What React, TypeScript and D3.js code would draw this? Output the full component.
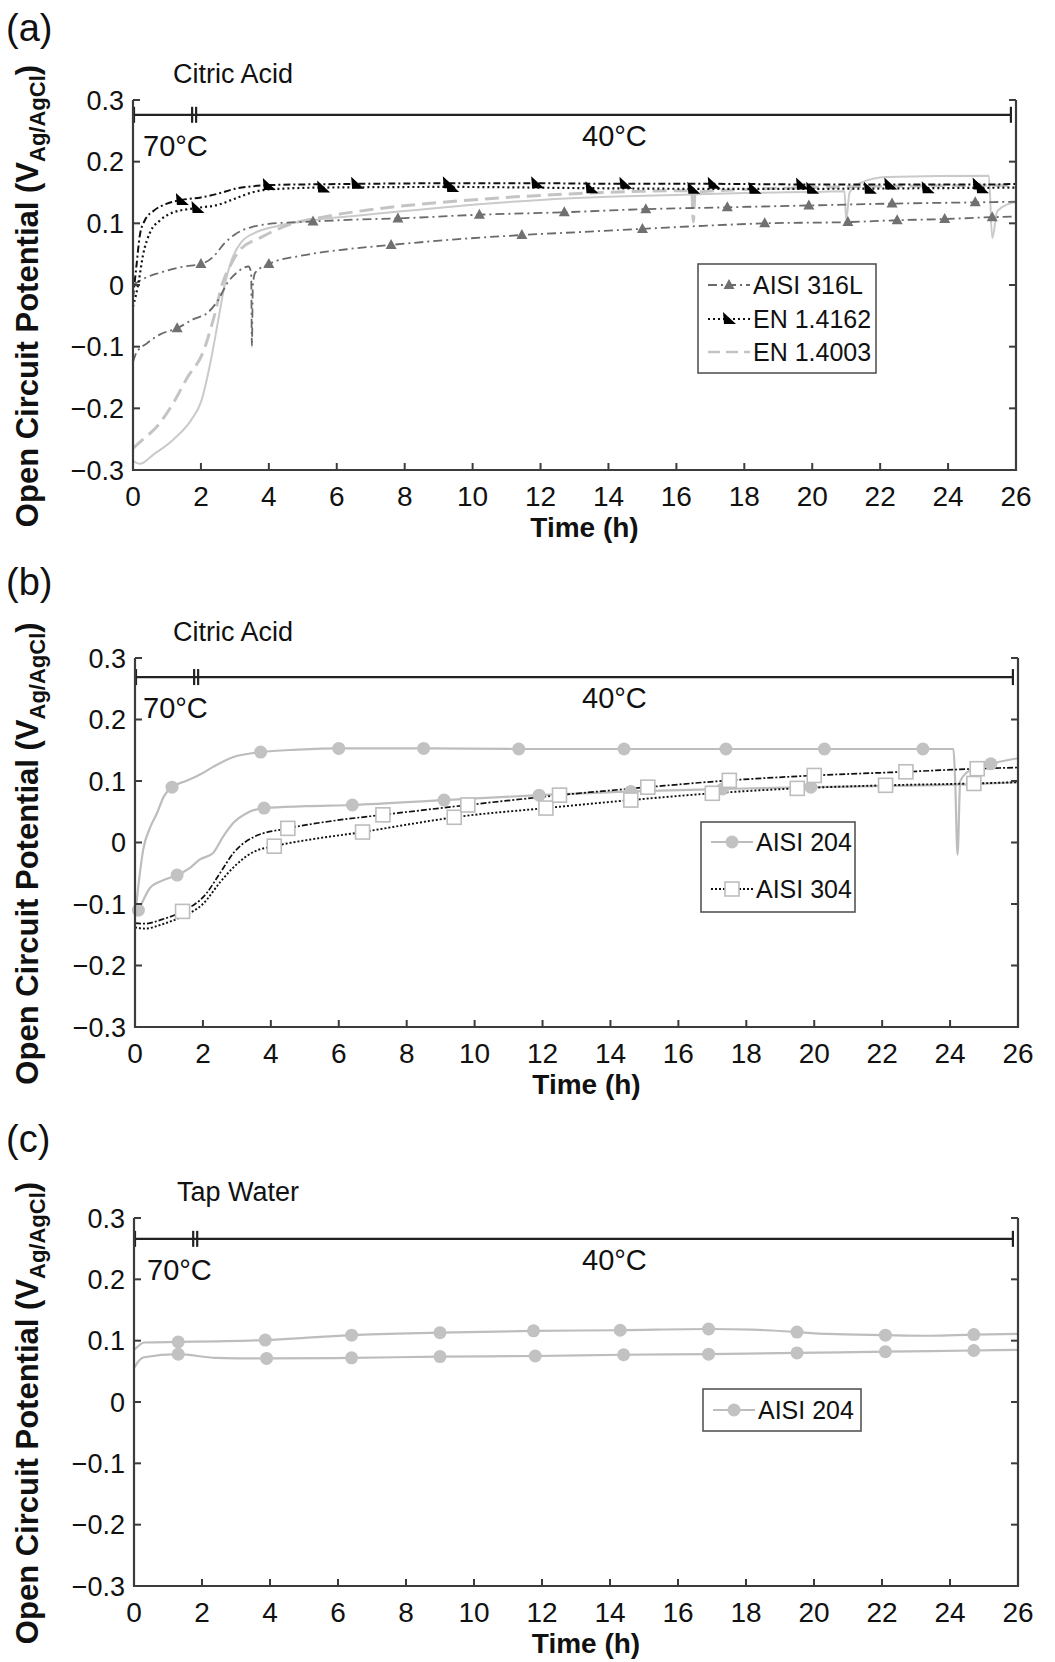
import React from 'react';
import * as d3 from 'd3';

type Pt = [number, number];

// ---------- shared axis data ----------
const xTicks = [0, 2, 4, 6, 8, 10, 12, 14, 16, 18, 20, 22, 24, 26];
const yTicks = [-0.3, -0.2, -0.1, 0, 0.1, 0.2, 0.3];
const xDomain: [number, number] = [0, 26];
const yDomain: [number, number] = [-0.3, 0.3];

const panelLabels = ['(a)', '(b)', '(c)'];
const panelTitles = ['Citric Acid', 'Citric Acid', 'Tap Water'];
const tempLabels = ['70°C', '40°C'];
const tempBarTimes = [0, 1.8, 25.85];
const tempBarLevels = [0.276, 0.269, 0.266];

// ---------- panel (a) ----------
const aisi316L_1: Pt[] = [
  [0, 0.0], [0.3, 0.01], [0.8, 0.02], [1.5, 0.03], [2.0, 0.034], [2.35, 0.045], [2.7, 0.068],
  [3.0, 0.082], [3.5, 0.094], [4.0, 0.099], [5.3, 0.103], [6.5, 0.106], [7.8, 0.108], [10.2, 0.114],
  [12.7, 0.118], [15.1, 0.123], [17.5, 0.126], [19.9, 0.129], [22.35, 0.132], [24.8, 0.134], [26, 0.135],
];
const aisi316L_1_markers: Pt[] = [
  [2.0, 0.034], [5.3, 0.103], [7.8, 0.108], [10.2, 0.114], [12.7, 0.118], [15.1, 0.123],
  [17.5, 0.126], [19.9, 0.129], [22.35, 0.132], [24.8, 0.134],
];
const aisi316L_2: Pt[] = [
  [0, -0.125], [0.1, -0.11], [0.4, -0.095], [0.8, -0.08], [1.3, -0.07], [1.8, -0.055], [2.2, -0.045],
  [2.5, -0.025], [2.8, 0.005], [3.1, 0.022], [3.4, 0.03], [3.48, 0.02], [3.5, -0.1], [3.53, 0.0],
  [3.6, 0.02], [4.0, 0.034], [5.0, 0.048], [6.3, 0.058], [7.6, 0.065], [9.5, 0.074], [11.45, 0.081],
  [13.2, 0.086], [15.0, 0.091], [16.8, 0.096], [18.6, 0.1], [21.05, 0.102], [22.5, 0.105],
  [23.9, 0.107], [25.3, 0.11], [26, 0.111],
];
const aisi316L_2_markers: Pt[] = [
  [1.3, -0.07], [4.0, 0.034], [7.6, 0.065], [11.45, 0.081], [15.0, 0.091], [18.6, 0.1],
  [21.05, 0.102], [22.5, 0.105], [23.9, 0.107], [25.3, 0.11],
];
const en14162_1: Pt[] = [
  [0, -0.02], [0.1, 0.03], [0.2, 0.08], [0.35, 0.105], [0.6, 0.12], [1.0, 0.132], [1.44, 0.138],
  [2.0, 0.142], [2.5, 0.148], [3.0, 0.156], [3.5, 0.16], [4.0, 0.162], [6.6, 0.164], [9.3, 0.165],
  [11.9, 0.165], [14.5, 0.164], [17.1, 0.164], [20.0, 0.163], [22.5, 0.163], [25.2, 0.163], [26, 0.164],
];
const en14162_1_markers: Pt[] = [
  [1.44, 0.138], [4.0, 0.162], [6.6, 0.164], [9.3, 0.165], [11.9, 0.165], [14.5, 0.164],
  [17.1, 0.164], [19.7, 0.163], [22.3, 0.163], [24.9, 0.163],
];
const en14162_2: Pt[] = [
  [0, -0.035], [0.15, 0.0], [0.3, 0.05], [0.5, 0.085], [0.8, 0.105], [1.2, 0.118], [1.9, 0.125],
  [2.5, 0.13], [3.0, 0.14], [3.5, 0.15], [4.0, 0.155], [5.6, 0.158], [9.4, 0.159], [13.5, 0.157],
  [16.5, 0.156], [20.0, 0.156], [23.4, 0.157], [26, 0.158],
];
const en14162_2_markers: Pt[] = [
  [1.9, 0.125], [5.6, 0.158], [9.4, 0.159], [13.5, 0.157], [16.5, 0.156], [18.3, 0.156],
  [20.0, 0.156], [21.7, 0.156], [23.4, 0.157], [25.0, 0.157],
];
const en14003_1: Pt[] = [
  [0, -0.265], [0.3, -0.25], [0.7, -0.23], [1.2, -0.19], [1.6, -0.15], [2.07, -0.108], [2.36, -0.057],
  [2.65, 0.005], [2.9, 0.035], [3.15, 0.057], [3.8, 0.078], [4.4, 0.094], [5.9, 0.113], [7.4, 0.125],
  [9.3, 0.135], [11, 0.142], [13, 0.148], [15, 0.152], [16.45, 0.153], [16.5, 0.102], [16.55, 0.15],
  [18, 0.155], [20, 0.158], [22, 0.16], [24, 0.161], [26, 0.162],
];
const en14003_2: Pt[] = [
  [0, -0.285], [0.2, -0.29], [0.6, -0.275], [1.2, -0.25], [1.7, -0.22], [2.0, -0.19], [2.3, -0.12],
  [2.5, -0.06], [2.7, 0.0], [2.9, 0.04], [3.2, 0.07], [3.6, 0.085], [4.2, 0.095], [5, 0.103],
  [6.5, 0.112], [8, 0.12], [10, 0.13], [12, 0.138], [14, 0.143], [16, 0.146], [18, 0.149], [20, 0.151],
  [20.95, 0.152], [21.0, 0.105], [21.1, 0.15], [21.4, 0.165], [22.2, 0.175], [25.2, 0.177],
  [25.3, 0.076], [25.45, 0.12], [26, 0.135],
];

// ---------- panel (b) ----------
const aisi204b_1: Pt[] = [
  [0, -0.12], [0.1, -0.07], [0.24, -0.012], [0.45, 0.025], [0.65, 0.048], [0.85, 0.075], [1.09, 0.09],
  [1.5, 0.1], [1.9, 0.11], [2.3, 0.123], [2.9, 0.139], [3.7, 0.147], [4.8, 0.151], [6.0, 0.153],
  [8.5, 0.153], [11.3, 0.152], [14.4, 0.152], [17.4, 0.152], [20.3, 0.152], [23.2, 0.152],
  [24.1, 0.152], [24.15, 0.1], [24.22, -0.02], [24.3, 0.1], [24.6, 0.118], [25.2, 0.128], [26, 0.137],
];
const aisi204b_1_markers: Pt[] = [
  [1.09, 0.09], [3.7, 0.147], [6.0, 0.153], [8.5, 0.153], [11.3, 0.152], [14.4, 0.152],
  [17.4, 0.152], [20.3, 0.152], [23.2, 0.152], [25.2, 0.128],
];
const aisi204b_2: Pt[] = [
  [0, -0.12], [0.1, -0.11], [0.44, -0.074], [0.8, -0.062], [1.24, -0.053], [1.6, -0.042],
  [1.9, -0.028], [2.3, -0.017], [2.6, 0.01], [2.9, 0.032], [3.3, 0.048], [3.8, 0.056], [5, 0.059],
  [6.4, 0.061], [9.1, 0.069], [11.9, 0.077], [14.6, 0.083], [17.3, 0.087], [19.9, 0.09], [22.1, 0.092],
  [24.7, 0.095], [26, 0.098],
];
const aisi204b_2_markers: Pt[] = [
  [0.1, -0.11], [1.24, -0.053], [3.8, 0.056], [6.4, 0.061], [9.1, 0.069], [11.9, 0.077],
  [14.6, 0.083], [17.3, 0.087], [19.9, 0.09], [22.1, 0.092], [24.7, 0.095],
];
const aisi304_1: Pt[] = [
  [0, -0.131], [0.3, -0.132], [0.8, -0.125], [1.4, -0.112], [2.1, -0.083], [2.5, -0.05], [2.9, -0.017],
  [3.5, 0.009], [4.5, 0.023], [5.8, 0.035], [7.3, 0.045], [9.8, 0.061], [12.5, 0.077], [15.1, 0.09],
  [17.5, 0.101], [20.0, 0.109], [22.7, 0.115], [24.8, 0.12], [26, 0.122],
];
const aisi304_1_markers: Pt[] = [
  [1.4, -0.112], [4.5, 0.023], [7.3, 0.045], [9.8, 0.061], [12.5, 0.077], [15.1, 0.09],
  [17.5, 0.101], [20.0, 0.109], [22.7, 0.115], [24.8, 0.12],
];
const aisi304_2: Pt[] = [
  [0, -0.138], [0.3, -0.14], [0.8, -0.133], [1.4, -0.12], [2.0, -0.1], [2.5, -0.065], [3.0, -0.035],
  [3.5, -0.015], [4.1, -0.006], [5.3, 0.006], [6.7, 0.017], [8.0, 0.029], [9.4, 0.041], [12.1, 0.056],
  [14.6, 0.069], [17.0, 0.08], [19.5, 0.088], [22.1, 0.093], [24.7, 0.096], [26, 0.098],
];
const aisi304_2_markers: Pt[] = [
  [4.1, -0.006], [6.7, 0.017], [9.4, 0.041], [12.1, 0.056], [14.6, 0.069], [17.0, 0.08],
  [19.5, 0.088], [22.1, 0.093], [24.7, 0.096],
];

// ---------- panel (c) ----------
const aisi204c_1: Pt[] = [
  [0, 0.085], [0.1, 0.09], [0.3, 0.097], [1.3, 0.098], [2.5, 0.099], [3.86, 0.101], [5.1, 0.105],
  [6.4, 0.109], [9.0, 0.113], [11.75, 0.116], [14.3, 0.117], [16.9, 0.119], [18.2, 0.118],
  [19.5, 0.114], [20.4, 0.111], [22.1, 0.109], [23.4, 0.108], [24.7, 0.11], [26, 0.111],
];
const aisi204c_1_markers: Pt[] = [
  [1.3, 0.098], [3.86, 0.101], [6.4, 0.109], [9.0, 0.113], [11.75, 0.116], [14.3, 0.117],
  [16.9, 0.119], [19.5, 0.114], [22.1, 0.109], [24.7, 0.11],
];
const aisi204c_2: Pt[] = [
  [0, 0.055], [0.1, 0.064], [0.3, 0.073], [1.3, 0.078], [2.4, 0.072], [3.9, 0.071], [6.4, 0.072],
  [9.0, 0.074], [11.8, 0.075], [14.4, 0.077], [16.9, 0.078], [19.5, 0.08], [22.1, 0.082],
  [24.7, 0.084], [26, 0.085],
];
const aisi204c_2_markers: Pt[] = [
  [1.3, 0.078], [3.9, 0.071], [6.4, 0.072], [9.0, 0.074], [11.8, 0.075], [14.4, 0.077],
  [16.9, 0.078], [19.5, 0.08], [22.1, 0.082], [24.7, 0.084],
];

// legend names
const legendA = ['AISI 316L', 'EN 1.4162', 'EN 1.4003'];
const legendB = ['AISI 204', 'AISI 304'];
const legendC = ['AISI 204'];

// ---------- styles ----------
const FONT = '"Liberation Sans", Arial, Helvetica, sans-serif';
const AXIS = '#3c3c3c';

type MarkerKind = 'triUp' | 'triCorner' | 'circle' | 'square' | 'none';
interface Style { color: string; width: number; dash?: string; marker: MarkerKind; mFill: string; mStroke: string; }

const st316: Style = { color: '#6a6a6a', width: 1.8, dash: '9,4,2,4', marker: 'triUp', mFill: '#707070', mStroke: 'none' };
const st4162a: Style = { color: '#111', width: 2, dash: '7,3,2,3', marker: 'triCorner', mFill: '#000', mStroke: 'none' };
const st4162b: Style = { color: '#111', width: 2.2, dash: '2,3', marker: 'triCorner', mFill: '#000', mStroke: 'none' };
const st4003a: Style = { color: '#c4c4c4', width: 3, dash: '14,7', marker: 'none', mFill: 'none', mStroke: 'none' };
const st4003b: Style = { color: '#cacaca', width: 2, marker: 'none', mFill: 'none', mStroke: 'none' };
const st204: Style = { color: '#bdbdbd', width: 2.2, marker: 'circle', mFill: '#c2c2c2', mStroke: 'none' };
const st304a: Style = { color: '#111', width: 1.7, dash: '6,2,2,2', marker: 'square', mFill: '#fff', mStroke: '#bdbdbd' };
const st304b: Style = { color: '#111', width: 1.9, dash: '2,2', marker: 'square', mFill: '#fff', mStroke: '#bdbdbd' };

interface Series { data: Pt[]; markers: Pt[]; style: Style; }

const panelSeries: Series[][] = [
  [
    { data: en14003_2, markers: [], style: st4003b },
    { data: en14003_1, markers: [], style: st4003a },
    { data: aisi316L_1, markers: aisi316L_1_markers, style: st316 },
    { data: aisi316L_2, markers: aisi316L_2_markers, style: st316 },
    { data: en14162_2, markers: en14162_2_markers, style: st4162b },
    { data: en14162_1, markers: en14162_1_markers, style: st4162a },
  ],
  [
    { data: aisi204b_1, markers: aisi204b_1_markers, style: st204 },
    { data: aisi204b_2, markers: aisi204b_2_markers, style: st204 },
    { data: aisi304_2, markers: aisi304_2_markers, style: st304b },
    { data: aisi304_1, markers: aisi304_1_markers, style: st304a },
  ],
  [
    { data: aisi204c_1, markers: aisi204c_1_markers, style: st204 },
    { data: aisi204c_2, markers: aisi204c_2_markers, style: st204 },
  ],
];

const legendStyles: Style[][] = [
  [st316, { ...st4162b }, { ...st4003a, width: 2.5, dash: '12,6' }],
  [st204, st304b],
  [st204],
];
const legendNames = [legendA, legendB, legendC];

// ---------- layout ----------
const frames = [
  { left: 133, right: 1016, top: 100, bottom: 470 },
  { left: 135, right: 1018, top: 658, bottom: 1027 },
  { left: 134, right: 1018, top: 1218, bottom: 1586 },
];
const legendBoxes = [
  { x: 698, y: 264, w: 178, h: 109, rows: [285, 319, 352] },
  { x: 701, y: 822, w: 154, h: 90, rows: [842, 889] },
  { x: 703, y: 1389, w: 158, h: 42, rows: [1410] },
];
const labelY = [41, 595, 1152];

function Marker({ kind, x, y, fill, stroke }: { kind: MarkerKind; x: number; y: number; fill: string; stroke: string }) {
  if (kind === 'triUp') {
    return <path d={`M${x},${y - 6}L${x + 5.5},${y + 4}L${x - 5.5},${y + 4}Z`} fill={fill} />;
  }
  if (kind === 'triCorner') {
    return <path d={`M${x - 6},${y - 7}L${x - 5},${y + 5}L${x + 7},${y + 5}Z`} fill={fill} />;
  }
  if (kind === 'circle') {
    return <circle cx={x} cy={y} r={6.5} fill={fill} />;
  }
  if (kind === 'square') {
    return <rect x={x - 7} y={y - 7} width={14} height={14} fill={fill} stroke={stroke} strokeWidth={1.6} />;
  }
  return null;
}

const fmt = (v: number) => (Math.abs(v) < 1e-9 ? '0' : d3.format('.1f')(v).replace('-', '\u2212'));

function Panel({ idx }: { idx: number }) {
  const f = frames[idx];
  const x = d3.scaleLinear().domain(xDomain).range([f.left, f.right]);
  const y = d3.scaleLinear().domain(yDomain).range([f.bottom, f.top]);
  const line = d3.line<Pt>().x((d) => x(d[0])).y((d) => y(d[1])).curve(d3.curveMonotoneX);
  const lb = legendBoxes[idx];
  const by = y(tempBarLevels[idx]);
  const bx0 = x(tempBarTimes[0]) + 1;
  const bx1 = x(tempBarTimes[1]);
  const bx2 = x(tempBarTimes[2]);
  const midY = (f.top + f.bottom) / 2 + 11;
  const tickLen = 7;
  return (
    <g>
      {/* panel label & title */}
      <text x={6} y={labelY[idx]} fontSize={38} fontFamily={FONT} fill="#111">{panelLabels[idx]}</text>
      <text x={idx === 2 ? 177 : 173} y={f.top - 17} fontSize={27} fontFamily={FONT} fill="#111">{panelTitles[idx]}</text>

      {/* series */}
      {panelSeries[idx].map((s, i) => (
        <path key={'l' + i} d={line(s.data) || ''} fill="none" stroke={s.style.color} strokeWidth={s.style.width}
          strokeDasharray={s.style.dash} strokeLinejoin="round" />
      ))}
      {panelSeries[idx].map((s, i) => (
        <g key={'m' + i}>
          {s.markers.map((p, j) => (
            <Marker key={j} kind={s.style.marker} x={x(p[0])} y={y(p[1])} fill={s.style.mFill} stroke={s.style.mStroke} />
          ))}
        </g>
      ))}

      {/* temperature bar */}
      <g stroke="#222" strokeWidth={2.2}>
        <line x1={bx0} x2={bx2} y1={by} y2={by} />
        <line x1={bx0} x2={bx0} y1={by - 8} y2={by + 8} />
        <line x1={bx1 - 2} x2={bx1 - 2} y1={by - 8} y2={by + 8} />
        <line x1={bx1 + 2} x2={bx1 + 2} y1={by - 8} y2={by + 8} />
        <line x1={bx2} x2={bx2} y1={by - 8} y2={by + 8} />
      </g>
      <text x={idx === 2 ? 147 : 143} y={by + 41} fontSize={29} fontFamily={FONT} fill="#111">{tempLabels[0]}</text>
      <text x={582} y={by + 31} fontSize={29} fontFamily={FONT} fill="#111">{tempLabels[1]}</text>

      {/* legend */}
      <rect x={lb.x} y={lb.y} width={lb.w} height={lb.h} fill="#fff" stroke="#555" strokeWidth={1.6} />
      {legendNames[idx].map((name, i) => {
        const s = legendStyles[idx][i];
        const ry = lb.rows[i];
        const lx0 = lb.x + 10;
        const lx1 = lb.x + 52;
        return (
          <g key={'lg' + i}>
            <line x1={lx0} x2={lx1} y1={ry} y2={ry} stroke={s.color} strokeWidth={s.width} strokeDasharray={s.dash} />
            <Marker kind={s.marker} x={(lx0 + lx1) / 2} y={ry} fill={s.mFill} stroke={s.mStroke} />
            <text x={lb.x + 55} y={ry + 9} fontSize={25} fontFamily={FONT} fill="#111">{name}</text>
          </g>
        );
      })}

      {/* axes */}
      <path d={`M${f.left},${f.top}V${f.bottom}H${f.right}V${f.top}`} fill="none" stroke={AXIS} strokeWidth={2.2} />
      {yTicks.map((t) => (
        <g key={'yt' + t}>
          <line x1={f.left} x2={f.left + tickLen} y1={y(t)} y2={y(t)} stroke={AXIS} strokeWidth={2} />
          <line x1={f.right} x2={f.right - tickLen} y1={y(t)} y2={y(t)} stroke={AXIS} strokeWidth={2} />
          <text x={f.left - 9} y={y(t)} dy="0.36em" textAnchor="end" fontSize={27} fontFamily={FONT} fill="#111">{fmt(t)}</text>
        </g>
      ))}
      {xTicks.map((t) => (
        <g key={'xt' + t}>
          <line x1={x(t)} x2={x(t)} y1={f.bottom} y2={f.bottom - tickLen} stroke={AXIS} strokeWidth={2} />
          <text x={x(t)} y={f.bottom + 36} textAnchor="middle" fontSize={28} fontFamily={FONT} fill="#111">{t}</text>
        </g>
      ))}
      <text x={(f.left + f.right) / 2 + 10} y={f.bottom + 67} textAnchor="middle" fontSize={28} fontWeight="bold" fontFamily={FONT} fill="#111">Time (h)</text>
      <text transform={`translate(38,${midY}) rotate(-90)`} textAnchor="middle" fontSize={31} fontWeight="bold" fontFamily={FONT} fill="#111">
        Open Circuit Potential (V<tspan fontSize={22} dy={7}>Ag/AgCl</tspan><tspan dy={-7}>)</tspan>
      </text>
    </g>
  );
}

export default function App() {
  return (
    <svg width={1055} height={1662} style={{ position: 'absolute', left: 0, top: 0, background: '#fff' }}
      xmlns="http://www.w3.org/2000/svg">
      <rect x={0} y={0} width={1055} height={1662} fill="#fff" />
      {[0, 1, 2].map((i) => <Panel key={i} idx={i} />)}
    </svg>
  );
}
